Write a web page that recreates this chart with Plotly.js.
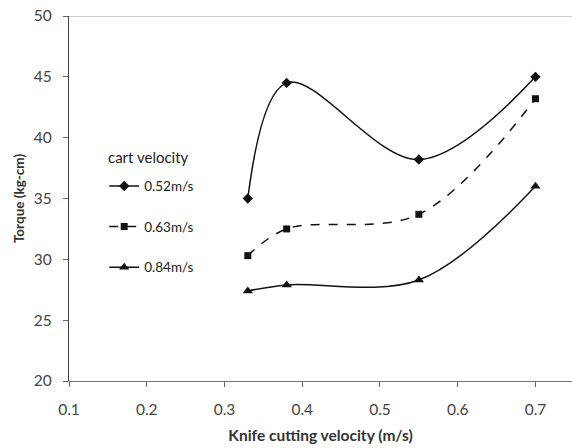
<!DOCTYPE html>
<html>
<head>
<meta charset="utf-8">
<script src="https://cdn.plot.ly/plotly-3.0.1.min.js"></script>
<style>html,body{margin:0;padding:0;background:#fff;}#chart{width:572px;height:448px;}</style>
</head>
<body>
<div id="chart"></div>
<script>
const knifeVelocity = [0.33, 0.38, 0.55, 0.70];
const seriesNames = ["0.52m/s", "0.63m/s", "0.84m/s"];
const legendTitle = "cart velocity";
const torque052 = [35.0, 44.5, 38.2, 45.0];
const torque063 = [30.3, 32.5, 33.7, 43.2];
const torque084 = [27.4, 27.9, 28.3, 36.0];
const xTicks = [0.1, 0.2, 0.3, 0.4, 0.5, 0.6, 0.7];
const yTicks = [20, 25, 30, 35, 40, 45, 50];

const seriesValues = [torque052, torque063, torque084];
const symbols = ["diamond", "square", "triangle-up"];
const dashes = ["solid", "dash", "solid"];
const sizes = [8, 7, 9];

const traces = seriesValues.map((vals, i) => ({
  x: knifeVelocity,
  y: vals,
  name: seriesNames[i],
  legendgroup: "g" + i,
  type: "scatter",
  mode: "lines+markers",
  line: {color: "#111", width: 1.5, dash: dashes[i], shape: "spline", smoothing: 1},
  marker: {symbol: symbols[i], size: sizes[i], color: "#111"}
}));

const font = "Lato, 'Open Sans', 'Liberation Sans', sans-serif";

const layout = {
  width: 572, height: 448,
  margin: {l: 69, r: 0, t: 16, b: 67},
  paper_bgcolor: "#fff", plot_bgcolor: "#fff",
  font: {family: font, size: 13, color: "#333"},
  showlegend: true,
  legend: {
    x: 0.07, y: 0.576, xanchor: "left", yanchor: "top",
    bgcolor: "rgba(0,0,0,0)",
    font: {size: 13.5, color: "#222"},
    traceorder: "grouped",
    tracegroupgap: 20,
    itemwidth: 30
  },
  annotations: [{
    text: legendTitle, xref: "paper", yref: "paper",
    x: (106 - 69) / 503, y: (381 - 157) / 365, xanchor: "left", yanchor: "middle",
    showarrow: false, font: {size: 15, color: "#222"}
  }],
  xaxis: {
    range: [0.1, 0.747],
    tickvals: xTicks,
    ticktext: xTicks.map(v => v.toFixed(1)),
    ticks: "outside", ticklen: 5, tickcolor: "#666",
    ticklabelstandoff: 9,
    showline: true, linecolor: "#777", linewidth: 1.2,
    showgrid: false, zeroline: false,
    tickfont: {size: 15.5, color: "#444"},
    title: {text: "<b>Knife cutting velocity (m/s)</b>", font: {size: 15.5, color: "#333"}, standoff: 13}
  },
  yaxis: {
    range: [20, 50],
    tickvals: yTicks,
    ticks: "outside", ticklen: 5, tickcolor: "#666",
    ticklabelstandoff: 8,
    showline: true, linecolor: "#444", linewidth: 1.2,
    showgrid: false, zeroline: false,
    tickfont: {size: 15.5, color: "#444"},
    title: {text: "<b>Torque (kg-cm)</b>", font: {size: 13.5, color: "#333"}, standoff: 6}
  },
  shapes: [{
    type: "line", xref: "paper", yref: "y", x0: 0, x1: 1, y0: 50, y1: 50,
    line: {color: "#bbb", width: 1.5}
  }]
};

Plotly.newPlot("chart", traces, layout, {displayModeBar: false, staticPlot: true});
</script>
</body>
</html>
